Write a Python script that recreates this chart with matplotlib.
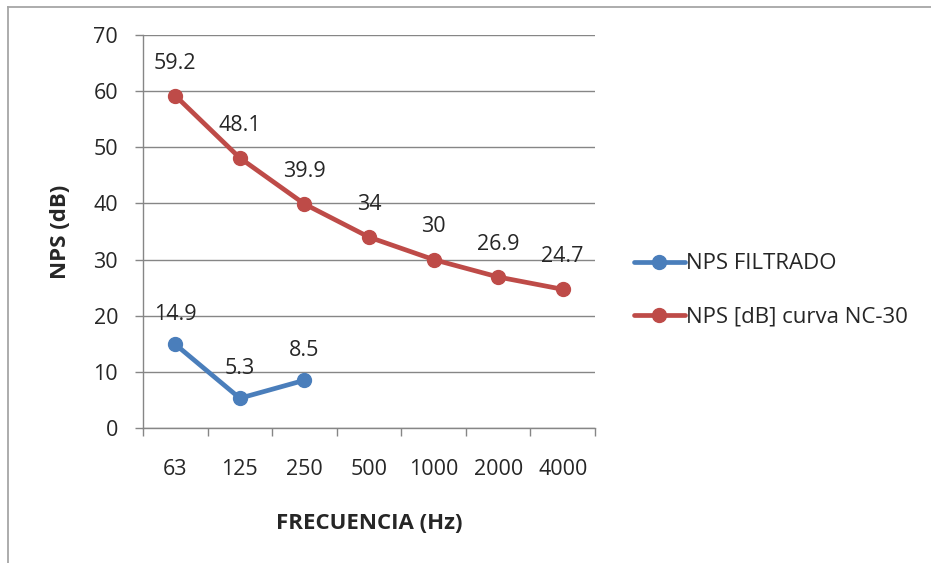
import matplotlib.pyplot as plt
import numpy as np

# Frequency bands and sound pressure levels
frecuencias = ["63", "125", "250", "500", "1000", "2000", "4000"]
nps_filtrado = [14.9, 5.3, 8.5]
nps_nc30 = [59.2, 48.1, 39.9, 34, 30, 26.9, 24.7]

azul = "#4A7EBB"
rojo = "#BE4B48"
gris = "#868686"
texto = "#262626"

plt.rcParams['font.family'] = ['Open Sans', 'DejaVu Sans']

fig = plt.figure(figsize=(9.31, 5.63), dpi=100)
ax = fig.add_axes([0.1536, 0.2398, 0.4855, 0.698])

x = np.arange(len(frecuencias))
ax.plot(x[:len(nps_filtrado)], nps_filtrado, color=azul, lw=3.4, marker="o",
        ms=10, label="NPS FILTRADO", solid_capstyle="round")
ax.plot(x, nps_nc30, color=rojo, lw=3.4, marker="o", ms=10,
        label="NPS [dB] curva NC-30", solid_capstyle="round")

# value labels above each point
for xi, v in zip(x, nps_filtrado):
    ax.annotate(f"{v:g}", (xi, v), xytext=(0, 21.5), textcoords="offset points",
                ha="center", va="center", fontsize=15.5, color=texto)
for xi, v in zip(x, nps_nc30):
    ax.annotate(f"{v:g}", (xi, v), xytext=(0, 23.5), textcoords="offset points",
                ha="center", va="center", fontsize=15.5, color=texto)

ax.set_xlim(-0.5, len(frecuencias) - 0.5)
ax.set_ylim(0, 70)
ax.set_yticks(range(0, 71, 10))
ax.set_xticks(x)
ax.set_xticklabels(frecuencias)
ax.set_xticks(np.arange(-0.5, len(frecuencias)), minor=True)
ax.tick_params(axis="x", which="major", length=0, pad=22, labelsize=15.5,
               labelcolor=texto)
ax.tick_params(axis="x", which="minor", length=6, width=1, color=gris,
               direction="out")
ax.tick_params(axis="y", length=6, width=1, color=gris, pad=12, labelsize=15.5,
               labelcolor=texto)

ax.grid(axis="y", color=gris, lw=1)
ax.set_axisbelow(True)
for s in ["top", "right"]:
    ax.spines[s].set_visible(False)
for s in ["left", "bottom"]:
    ax.spines[s].set_color(gris)
    ax.spines[s].set_linewidth(1)

ax.set_xlabel("FRECUENCIA (Hz)", fontsize=16, fontweight="bold",
              color=texto, labelpad=24)
ax.set_ylabel("NPS (dB)", fontsize=16, fontweight="bold", color=texto,
              labelpad=16)

fig.legend(loc="center left", bbox_to_anchor=(0.659, 0.484), frameon=False,
           fontsize=16, handlelength=2.3, handletextpad=0.08, labelspacing=1.45,
           labelcolor=texto)

# chart border
fig.add_artist(plt.Line2D([0.009, 1.0], [0.988, 0.988], color="#A6A6A6", lw=1.3))
fig.add_artist(plt.Line2D([0.009, 0.009], [0.0, 0.988], color="#A6A6A6", lw=1.3))

fig.savefig("out.png", dpi=100, facecolor="white")
